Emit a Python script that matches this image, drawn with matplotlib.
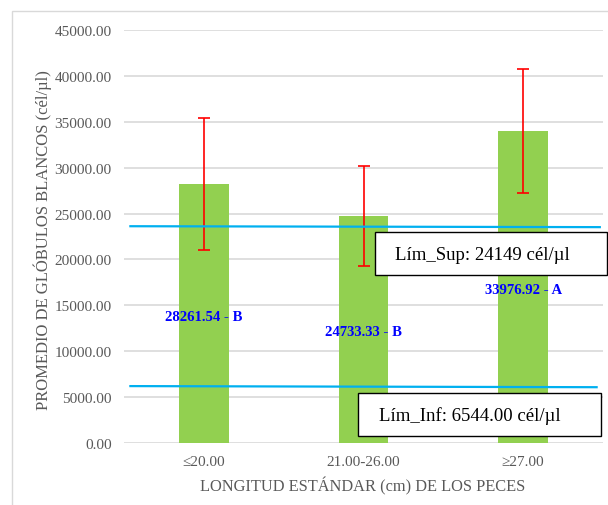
import matplotlib.pyplot as plt
from matplotlib.patches import Rectangle

plt.rcParams['font.family'] = ['Liberation Serif', 'DejaVu Serif']

categorias = ['≤20.00', '21.00-26.00', '≥27.00']
promedios = [28261.54, 24733.33, 33976.92]
errores = [7200, 5400, 6750]
letras = ['B', 'B', 'A']
etiquetas = ['%.2f - %s' % (v, l) for v, l in zip(promedios, letras)]
# posicion vertical de las etiquetas de datos
etiq_y = [13800, 12150, 16750]

lim_sup_x = [-0.46, 2.48]
lim_sup_y = [23620, 23520]
lim_inf_x = [-0.46, 2.46]
lim_inf_y = [6200, 6080]
texto_sup = 'Lím_Sup: 24149 cél/µl'
texto_inf = 'Lím_Inf: 6544.00 cél/µl'
yticks = list(range(0, 45001, 5000))

W, H = 608, 506
fig = plt.figure(figsize=(W / 100, H / 100), dpi=100)
ax = fig.add_axes([124 / W, 1 - 444 / H, 479 / W, 413 / H])

x = list(range(len(categorias)))
ax.bar(x, promedios, width=0.31, color='#92d050', zorder=2)
ax.errorbar(x, promedios, yerr=errores, fmt='none', ecolor='#ff0000',
            elinewidth=1.2, capsize=4, capthick=1.2, zorder=3)
ax.plot(lim_sup_x, lim_sup_y, color='#00b0f0', lw=1.6, zorder=4)
ax.plot(lim_inf_x, lim_inf_y, color='#00b0f0', lw=1.6, zorder=4)

for xi, yi, t in zip(x, etiq_y, etiquetas):
    ax.text(xi, yi, t, ha='center', va='center', color='#0000ff',
            fontsize=10.6, fontweight='bold', zorder=5)

ax.set_xlim(-0.5, 2.5)
ax.set_ylim(0, 45000)
ax.set_yticks(yticks)
ax.set_yticklabels(['%.2f' % v for v in yticks])
ax.set_xticks(x)
ax.set_xticklabels(categorias)
ax.tick_params(axis='both', length=0, colors='#595959', labelsize=11)
ax.tick_params(axis='y', pad=9)
ax.tick_params(axis='x', pad=9)
ax.grid(axis='y', color='#d9d9d9', lw=1.2, zorder=0)
ax.set_axisbelow(True)
for s in ax.spines.values():
    s.set_visible(False)

fig.text(43 / W, 1 - 240 / H, 'PROMEDIO DE GLÓBULOS BLANCOS (cél/µl)',
         rotation=90, ha='center', va='center', color='#595959', fontsize=12)
fig.text(363 / W, 1 - 486 / H, 'LONGITUD ESTÁNDAR (cm) DE LOS PECES',
         ha='center', va='center', color='#595959', fontsize=11.8)

# cuadros de texto
fig.add_artist(Rectangle((375 / W, 1 - 276 / H), 232 / W, 43 / H,
                         transform=fig.transFigure, facecolor='white',
                         edgecolor='black', lw=1.0, zorder=10))
fig.text(395 / W, 1 - 255 / H, texto_sup, ha='left', va='center',
         fontsize=13.5, color='black', zorder=11)
fig.add_artist(Rectangle((358 / W, 1 - 437 / H), 243 / W, 43 / H,
                         transform=fig.transFigure, facecolor='white',
                         edgecolor='black', lw=1.0, zorder=10))
fig.text(379 / W, 1 - 416 / H, texto_inf, ha='left', va='center',
         fontsize=13.5, color='black', zorder=11)

# borde exterior del grafico
fig.add_artist(Rectangle((12 / W, -0.1), 1.2, 1.1 - 12 / H,
                         transform=fig.transFigure, facecolor='none',
                         edgecolor='#d9d9d9', lw=1.0))

fig.savefig('out.png', dpi=100)
